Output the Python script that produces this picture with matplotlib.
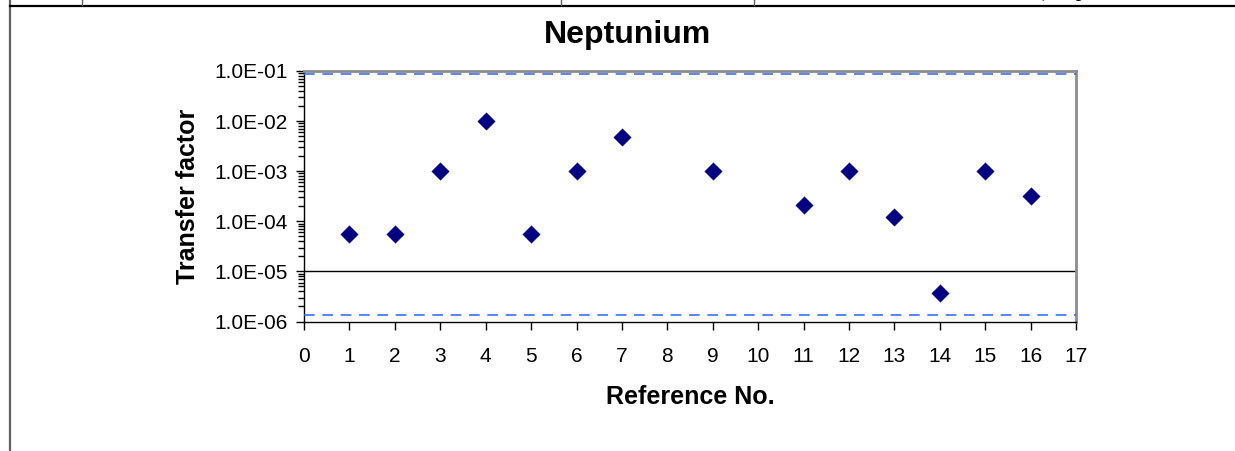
import matplotlib.pyplot as plt
from matplotlib.lines import Line2D
from matplotlib.ticker import FixedLocator, LogLocator, NullFormatter

plt.rcParams['font.family'] = ['Liberation Sans', 'DejaVu Sans']

# Transfer factors by reference number
ref_no = [1, 2, 3, 4, 5, 6, 7, 9, 11, 12, 13, 14, 15, 16]
transfer = [5.7e-5, 5.7e-5, 1.0e-3, 1.0e-2, 5.7e-5, 1.0e-3, 4.8e-3,
            1.0e-3, 2.1e-4, 1.0e-3, 1.2e-4, 3.7e-6, 1.0e-3, 3.2e-4]

x_ticks = list(range(0, 18))
y_ticks = [1e-6, 1e-5, 1e-4, 1e-3, 1e-2, 1e-1]
y_labels = ['1.0E-06', '1.0E-05', '1.0E-04', '1.0E-03', '1.0E-02', '1.0E-01']

upper_bound = 8.8e-2
lower_bound = 1.35e-6
reference_line = 1e-5

fig = plt.figure(figsize=(12.35, 4.51), dpi=100)
ax = fig.add_axes([0.2462, 0.2871, 0.6251, 0.5555])

ax.scatter(ref_no, transfer, marker='D', s=85, color='#000080', zorder=4,
           linewidths=0)

ax.axhline(reference_line, color='black', linewidth=1.0, zorder=2)
ax.axhline(upper_bound, color='#2f62ff', linewidth=1.1, dashes=(7, 5), zorder=3)
ax.axhline(lower_bound, color='#2f62ff', linewidth=1.1, dashes=(7, 5), zorder=3)

ax.set_yscale('log')
ax.set_ylim(1e-6, 1e-1)
ax.set_xlim(0, 17)

ax.xaxis.set_major_locator(FixedLocator(x_ticks))
ax.set_xticklabels([str(v) for v in x_ticks])
ax.yaxis.set_major_locator(FixedLocator(y_ticks))
ax.set_yticklabels(y_labels)
ax.yaxis.set_minor_locator(LogLocator(base=10, subs=range(2, 10)))
ax.yaxis.set_minor_formatter(NullFormatter())

ax.tick_params(axis='both', which='major', labelsize=15, direction='out',
               length=6, width=1, color='black')
ax.tick_params(axis='y', which='minor', direction='out', length=4, width=1)
ax.tick_params(axis='x', pad=12)
ax.tick_params(axis='y', pad=6)

for side in ('left', 'bottom'):
    ax.spines[side].set_color('black')
    ax.spines[side].set_linewidth(1.0)
for side in ('top', 'right'):
    ax.spines[side].set_color('#8c8c8c')
    ax.spines[side].set_linewidth(2.0)

fig.text(627 / 1235, 1 - 35 / 451, 'Neptunium', fontsize=23,
         fontweight='bold', ha='center', va='center')
ax.set_xlabel('Reference No.', fontsize=18, fontweight='bold', labelpad=14)
ax.set_ylabel('Transfer factor', fontsize=18, fontweight='bold', labelpad=10)

# page border lines around the chart
fig.add_artist(Line2D([10 / 1235, 10 / 1235], [0, 1], color='#606060',
                      linewidth=1.6, transform=fig.transFigure))
fig.add_artist(Line2D([10 / 1235, 1], [1 - 5.5 / 451, 1 - 5.5 / 451],
                      color='black', linewidth=1.6, transform=fig.transFigure))
for xp in (82, 561, 754):
    fig.add_artist(Line2D([xp / 1235, xp / 1235], [1 - 5 / 451, 1],
                          color='#606060', linewidth=1.0,
                          transform=fig.transFigure))
fig.text(1043 / 1235, 1 + 1 / 451, ',', fontsize=12, ha='center',
         va='baseline')
fig.text(1078 / 1235, 1 + 1.5 / 451, 'g', fontsize=12, ha='center',
         va='baseline')

fig.savefig('out.png', dpi=100)
